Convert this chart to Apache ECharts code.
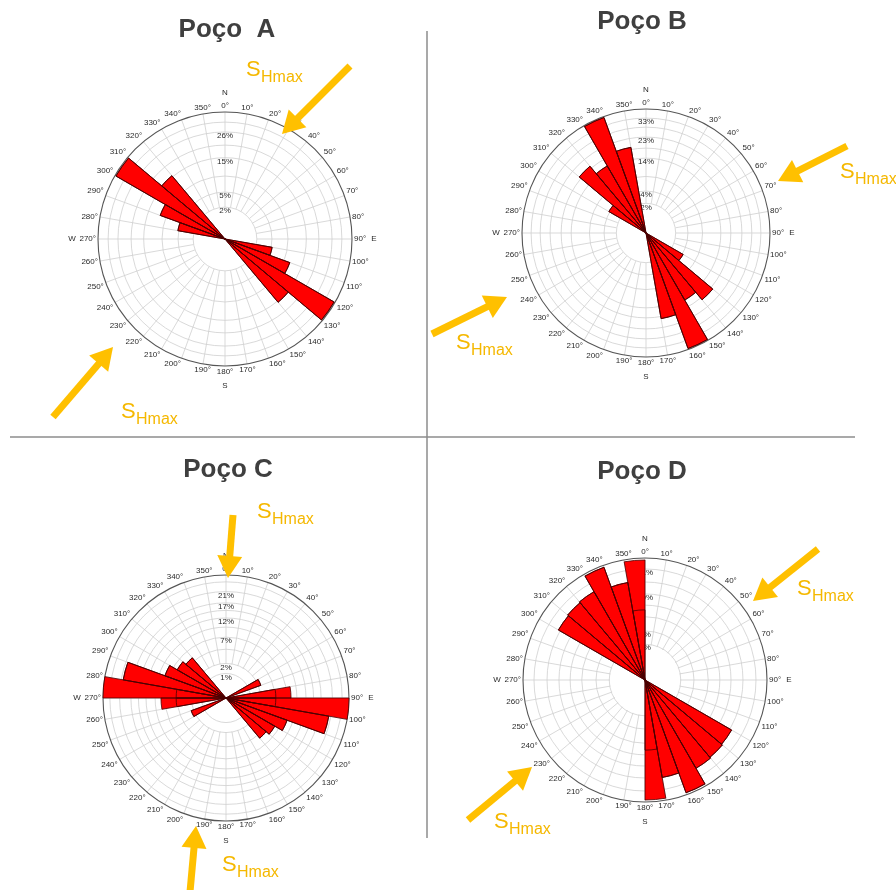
<!DOCTYPE html>
<html>
<head>
<meta charset="utf-8">
<title>Rosetas - Poços A a D</title>
<script src="https://cdn.jsdelivr.net/npm/echarts@6/dist/echarts.min.js"></script>
<style>
  html, body { margin: 0; padding: 0; background: #fff; }
  #chart { width: 896px; height: 890px; }
</style>
</head>
<body>
<div id="chart"></div>
<script>
// setores de 10 graus (0-10, 10-20, ... 350-360)
var setores = ['0', '10', '20', '30', '40', '50', '60', '70', '80', '90', '100', '110',
    '120', '130', '140', '150', '160', '170', '180', '190', '200', '210', '220', '230',
    '240', '250', '260', '270', '280', '290', '300', '310', '320', '330', '340', '350'];

// frequencia (%) por setor, escala de area igual
var pocoA = [0, 0, 0, 0, 0, 0, 0, 0, 0, 0, 5.2, 10.8, 36, 15.5, 0, 0, 0, 0,
             0, 0, 0, 0, 0, 0, 0, 0, 0, 0, 5.2, 10.8, 36, 15.5, 0, 0, 0, 0];
var pocoB = [0, 0, 0, 0, 0, 0, 0, 0, 0, 0, 0, 0, 4.6, 19, 15, 37.8, 18.9, 0,
             0, 0, 0, 0, 0, 0, 0, 0, 0, 0, 0, 0, 4.6, 19, 15, 37.8, 18.9, 0];
var pocoC = [0, 0, 0, 0, 0, 0, 2.6, 0, 8.0, 28.6, 20.6, 8.0, 6.0, 5.2, 0, 0, 0, 0,
             0, 0, 0, 0, 0, 0, 2.6, 0, 4.7, 4.7, 20.6, 8.0, 6.0, 5.2, 0, 0, 0, 0];
var pocoD = [0, 0, 0, 0, 0, 0, 0, 0, 0, 0, 0, 0, 25, 25.5, 26, 36, 24.5, 12.3,
             0, 0, 0, 0, 0, 0, 0, 0, 0, 0, 0, 0, 25, 25.5, 26, 36, 24.5, 36];

// circulos (%) e os que levam rotulo
var aneisA = [2.3, 5, 9, 15, 20, 26, 31];
var rotulosA = [2.3, 5, 15, 26];
var aneisB = [2.2, 4.4, 8, 14, 18, 23, 28, 33];
var rotulosB = [2.2, 4.4, 14, 23, 33];
var aneisC = [1.14, 2.26, 4.5, 7, 9.5, 12.1, 14.5, 17.1, 21.4, 25.5];
var rotulosC = [1.14, 2.26, 7, 12.1, 17.1, 21.4];
var aneisD = [3.2, 6, 10, 14, 18.5, 24, 30.8];
var rotulosD = [3.2, 6, 18.5, 30.8];

var paineis = [
    { titulo: 'Poço  A', dados: pocoA, aneis: aneisA, rotulos: rotulosA, escala: 36.6, cx: 225, cy: 239, r: 127, furo: 32, tx: 227, ty: 30 },
    { titulo: 'Poço B', dados: pocoB, aneis: aneisB, rotulos: rotulosB, escala: 38.44, cx: 646, cy: 233, r: 124, furo: 30, tx: 642, ty: 22 },
    { titulo: 'Poço C', dados: pocoC, aneis: aneisC, rotulos: rotulosC, escala: 28.6, cx: 226, cy: 698, r: 123, furo: 34, tx: 228, ty: 470 },
    { titulo: 'Poço D', dados: pocoD, aneis: aneisD, rotulos: rotulosD, escala: 37.21, cx: 645, cy: 680, r: 122, furo: 35, tx: 642, ty: 472 }
];

// setas SHmax: [x cauda, y cauda, x ponta, y ponta] e posicao do texto
var setas = [
    [350, 66, 282, 134], [53, 417, 113, 347],
    [847, 146, 778, 181], [432, 334, 507, 297],
    [233, 515, 228, 578], [190, 892, 196, 826],
    [818, 549, 753, 601], [468, 820, 532, 767]
];
var textosSH = [[246, 70], [121, 412], [840, 172], [456, 343], [257, 512], [222, 865], [797, 589], [494, 822]];

var ouro = '#FFC000';
var ouroTexto = '#F5B800';
var fonte = '"Liberation Sans", Arial, sans-serif';

var polar = [], angleAxis = [], radiusAxis = [], series = [], graphic = [];

paineis.forEach(function(p, n) {
    var g = 2 * n, b = 2 * n + 1;
    polar[g] = { center: [p.cx, p.cy], radius: [p.furo, p.r] };
    polar[b] = { center: [p.cx, p.cy], radius: [0, p.r] };

    angleAxis[g] = {
        polarIndex: g, type: 'value', min: 0, max: 360, interval: 10,
        startAngle: 90, clockwise: true,
        axisLine: { show: false }, axisTick: { show: false },
        splitLine: { show: true, lineStyle: { color: '#cfcfcf', width: 0.8 } },
        axisLabel: { formatter: '{value}°', fontSize: 8, color: '#2a2a2a', margin: 2, fontFamily: fonte }
    };
    radiusAxis[g] = { polarIndex: g, type: 'value', min: 0, max: 1, show: false };

    angleAxis[b] = {
        polarIndex: b, type: 'category', data: setores, startAngle: 90, clockwise: true,
        boundaryGap: true,
        axisLine: { show: true, lineStyle: { color: '#555', width: 1.1 } },
        axisTick: { show: false }, axisLabel: { show: false }, splitLine: { show: false }
    };
    radiusAxis[b] = {
        polarIndex: b, type: 'value', min: 0, max: Math.sqrt(p.escala),
        axisLine: { show: false },
        axisTick: { show: false, customValues: p.aneis.map(Math.sqrt) },
        splitLine: { show: true, lineStyle: { color: '#cfcfcf', width: 0.8 } },
        axisLabel: {
            customValues: p.rotulos.map(Math.sqrt),
            formatter: function(v) { return Math.round(v * v) + '%'; },
            fontSize: 8, color: '#2a2a2a', fontFamily: fonte,
            margin: 0, align: 'center', verticalAlign: 'top'
        }
    };

    // roseta bidirecional: setor direto + setor oposto
    var oposto = p.dados.map(function(v, i) { return p.dados[(i + 18) % 36]; });
    [p.dados, oposto].forEach(function(d) {
        series.push({
            type: 'bar', coordinateSystem: 'polar', polarIndex: b, silent: true,
            data: d.map(Math.sqrt), barCategoryGap: '0%', barGap: '-100%', z: 2,
            itemStyle: { color: '#ff0000' }
        });
    });
    [p.dados, oposto].forEach(function(d) {
        series.push({
            type: 'bar', coordinateSystem: 'polar', polarIndex: b, silent: true,
            data: d.map(Math.sqrt), barCategoryGap: '0%', barGap: '-100%', z: 3,
            itemStyle: { color: 'rgba(0,0,0,0)', borderColor: '#4a0000', borderWidth: 0.8 }
        });
    });

    graphic.push({ type: 'text', z: 50, style: { text: p.titulo, x: p.tx, y: p.ty, font: 'bold 26px ' + fonte, fill: '#3f3f3f', textAlign: 'center', textVerticalAlign: 'middle' } });
    var pontos = [['N', p.cx, p.cy - p.r - 19], ['S', p.cx, p.cy + p.r + 20], ['E', p.cx + p.r + 22, p.cy], ['W', p.cx - p.r - 26, p.cy]];
    pontos.forEach(function(c) {
        graphic.push({ type: 'text', z: 50, style: { text: c[0], x: c[1], y: c[2], font: '8px ' + fonte, fill: '#2a2a2a', textAlign: 'center', textVerticalAlign: 'middle' } });
    });
});

function seta(s) {
    var dx = s[2] - s[0], dy = s[3] - s[1];
    var L = Math.sqrt(dx * dx + dy * dy), ux = dx / L, uy = dy / L;
    var hl = 22, hw = 12.5;
    var bx = s[2] - ux * hl, by = s[3] - uy * hl;
    return [
        { type: 'line', z: 100, shape: { x1: s[0], y1: s[1], x2: bx + ux * 3, y2: by + uy * 3 }, style: { stroke: ouro, lineWidth: 7 } },
        { type: 'polygon', z: 100, shape: { points: [[s[2], s[3]], [bx - uy * hw, by + ux * hw], [bx + uy * hw, by - ux * hw]] }, style: { fill: ouro } }
    ];
}
setas.forEach(function(s) { graphic = graphic.concat(seta(s)); });

textosSH.forEach(function(t) {
    graphic.push({ type: 'text', z: 100, style: { text: 'S', x: t[0], y: t[1], font: '22px ' + fonte, fill: ouroTexto, textVerticalAlign: 'middle' } });
    graphic.push({ type: 'text', z: 100, style: { text: 'Hmax', x: t[0] + 15, y: t[1] + 8, font: '16px ' + fonte, fill: ouroTexto, textVerticalAlign: 'middle' } });
});

// linhas divisorias
graphic.push({ type: 'line', z: 10, shape: { x1: 427, y1: 31, x2: 427, y2: 838 }, style: { stroke: '#8c8c8c', lineWidth: 1.5 } });
graphic.push({ type: 'line', z: 10, shape: { x1: 10, y1: 437, x2: 855, y2: 437 }, style: { stroke: '#8c8c8c', lineWidth: 1.5 } });

var myChart = echarts.init(document.getElementById('chart'));
myChart.setOption({
    animation: false,
    polar: polar,
    angleAxis: angleAxis,
    radiusAxis: radiusAxis,
    series: series,
    graphic: { elements: graphic }
});
</script>
</body>
</html>
